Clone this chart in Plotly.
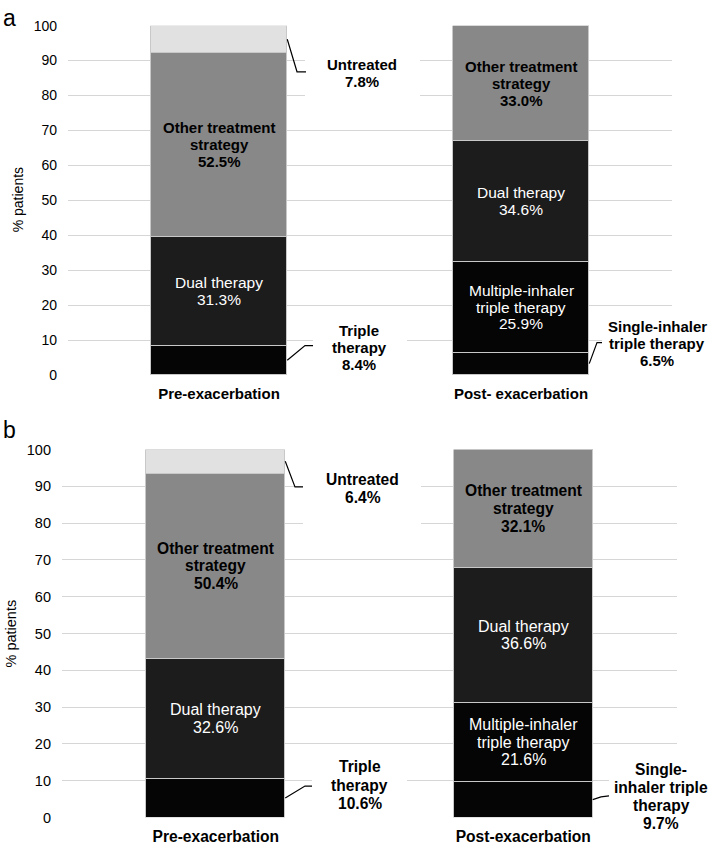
import plotly.graph_objects as go

W, H = 708, 852

# ---------------- data ----------------
categories_a = ["Pre-exacerbation", "Post- exacerbation"]
categories_b = ["Pre-exacerbation", "Post-exacerbation"]
y_ticks = [0, 10, 20, 30, 40, 50, 60, 70, 80, 90, 100]

a_triple = [8.4, None]
a_single = [None, 6.5]
a_multi = [None, 25.9]
a_dual = [31.3, 34.6]
a_other = [52.5, 33.0]
a_untreated = [7.8, None]

b_triple = [10.6, None]
b_single = [None, 9.7]
b_multi = [None, 21.6]
b_dual = [32.6, 36.6]
b_other = [50.4, 32.1]
b_untreated = [6.4, None]

# ---------------- styles ----------------
FONT = "Arial, Liberation Sans, Helvetica, sans-serif"
COL = dict(triple="#050505", single="#050505", multi="#050505",
           dual="#1c1c1c", other="#888888", untreated="#e1e1e1")
GRID = "#d6d6d6"
SEP = "#c8c8c8"

geom = {
    "a": dict(l=68, r=672, t=18, b=374, fs_b=15, fs_r=15.5, lh=16.8, tick=14),
    "b": dict(l=62, r=677, t=450, b=825, fs_b=15.6, fs_r=16, lh=17.8, tick=14.5),
}


def px2x(g, px):
    return (px - g["l"]) / (g["r"] - g["l"]) * 2 - 0.5


def py2y(g, py):
    return (g["b"] - py) / (g["b"] - g["t"]) * 100


BAR_W = 0.452

panels = {
    "a": dict(cats=categories_a, ax=("x", "y"),
              seg=[("triple", a_triple), ("single", a_single), ("multi", a_multi),
                   ("dual", a_dual), ("other", a_other), ("untreated", a_untreated)]),
    "b": dict(cats=categories_b, ax=("x2", "y2"),
              seg=[("triple", b_triple), ("single", b_single), ("multi", b_multi),
                   ("dual", b_dual), ("other", b_other), ("untreated", b_untreated)]),
}

inner_text = {
    "dual": (["Dual therapy"], "white", False),
    "multi": (["Multiple-inhaler", "triple therapy"], "white", False),
    "other": (["Other treatment", "strategy"], "black", True),
}

# outer labels: (segment, bar index, lines, text centre px, box px, leader bend points px)
outer = {
    "a": [
        ("untreated", 0, ["Untreated"], (362, 66), (305, 420, 42, 94), [(297, 65), (306, 65)]),
        ("triple", 0, ["Triple", "therapy"], (359, 346), (313, 407, 316, 382), [(305, 344), (313, 344)]),
        ("single", 1, ["Single-inhaler", "triple therapy"], (657, 342), (602, 708, 318, 368), [(597, 341), (602, 341)]),
    ],
    "b": [
        ("untreated", 0, ["Untreated"], (362.5, 490), (303, 421, 458, 532), [(295, 488), (303, 488)]),
        ("triple", 0, ["Triple", "therapy"], (359.5, 792), (312, 407, 760, 838), [(305, 793), (312, 793)]),
        ("single", 1, ["Single-", "inhaler triple", "therapy"], (661, 803.5), (609, 708, 764, 850), [(601, 804), (609, 803)]),
    ],
}

fig = go.Figure()
annotations = []
shapes = []

for key, p in panels.items():
    g = geom[key]
    xa, ya = p["ax"]
    base = [0.0, 0.0]
    centers = {}
    for name, vals in p["seg"]:
        fig.add_trace(go.Bar(
            x=[0, 1], y=vals, width=BAR_W, xaxis=xa, yaxis=ya,
            marker=dict(color=COL[name], line=dict(color=SEP, width=1)),
            showlegend=False, hoverinfo="skip"))
        for i, v in enumerate(vals):
            if v is None:
                continue
            centers[(name, i)] = (base[i] + v / 2, v)
            base[i] += v

    # inner labels
    for (name, i), (c, v) in centers.items():
        if name not in inner_text:
            continue
        lines, color, bold = inner_text[name]
        lines = lines + [f"{v:.1f}%"]
        n = len(lines)
        for k, line in enumerate(lines):
            txt = f"<b>{line}</b>" if bold else line
            annotations.append(dict(
                x=i, y=c, xref=xa, yref=ya, text=txt, showarrow=False,
                xanchor="center", yanchor="middle",
                yshift=((n - 1) / 2 - k) * g["lh"],
                font=dict(family=FONT, size=g["fs_b"] if bold else g["fs_r"], color=color)))

    # outer labels with white boxes and leader lines
    for name, i, lines, (cx, cy), (bx0, bx1, by0, by1), bends in outer[key]:
        c, v = centers[(name, i)]
        shapes.append(dict(type="rect", xref="paper", yref="paper",
                           x0=bx0 / W, x1=bx1 / W, y0=1 - by1 / H, y1=1 - by0 / H,
                           fillcolor="white", line=dict(width=0), layer="above"))
        pts = [(i + BAR_W / 2, c)] + [(px2x(g, bx), py2y(g, by)) for bx, by in bends]
        path = "M " + " L ".join(f"{x:.4f},{y:.4f}" for x, y in pts)
        shapes.append(dict(type="path", xref=xa, yref=ya, path=path,
                           line=dict(color="black", width=1.2), layer="above"))
        all_lines = lines + [f"{v:.1f}%"]
        n = len(all_lines)
        lh = g["lh"] + 0.8
        for k, line in enumerate(all_lines):
            py = cy + (k - (n - 1) / 2) * lh
            annotations.append(dict(
                x=cx / W, y=1 - py / H, xref="paper", yref="paper",
                text=f"<b>{line}</b>", showarrow=False,
                xanchor="center", yanchor="middle",
                font=dict(family=FONT, size=g["fs_b"], color="black")))

    # y-axis title and panel letter
    annotations.append(dict(
        x=(18 if key == "a" else 11) / W, y=1 - ((g["t"] + g["b"]) / 2) / H,
        xref="paper", yref="paper", text="% patients", textangle=-90,
        showarrow=False, xanchor="center", yanchor="middle",
        font=dict(family=FONT, size=g["tick"], color="black")))
    annotations.append(dict(
        x=9 / W, y=1 - (10 if key == "a" else 430) / H, xref="paper", yref="paper",
        text=key, showarrow=False, xanchor="center", yanchor="middle",
        font=dict(family=FONT, size=23, color="black")))

ga, gb = geom["a"], geom["b"]
axis_common = dict(showline=False, zeroline=False)
fig.update_layout(
    width=W, height=H, margin=dict(l=0, r=0, t=0, b=0),
    paper_bgcolor="white", plot_bgcolor="white",
    barmode="stack", bargap=0,
    font=dict(family=FONT, color="black"),
    xaxis=dict(domain=[ga["l"] / W, ga["r"] / W], range=[-0.5, 1.5],
               tickvals=[0, 1], ticktext=[f"<b>{c}</b>" for c in categories_a],
               showgrid=False, ticks="", ticklabelstandoff=8,
               tickfont=dict(family=FONT, size=15, color="black"), anchor="y", **axis_common),
    yaxis=dict(domain=[1 - ga["b"] / H, 1 - ga["t"] / H], range=[0, 100],
               tickvals=y_ticks, showgrid=True, gridcolor=GRID, gridwidth=1.2,
               ticks="", ticklabelstandoff=10,
               tickfont=dict(family=FONT, size=ga["tick"], color="black"), anchor="x", **axis_common),
    xaxis2=dict(domain=[gb["l"] / W, gb["r"] / W], range=[-0.5, 1.5],
                tickvals=[0, 1], ticktext=[f"<b>{c}</b>" for c in categories_b],
                showgrid=False, ticks="", ticklabelstandoff=8,
                tickfont=dict(family=FONT, size=15.6, color="black"), anchor="y2", **axis_common),
    yaxis2=dict(domain=[1 - gb["b"] / H, 1 - gb["t"] / H], range=[0, 100],
                tickvals=y_ticks, showgrid=True, gridcolor=GRID, gridwidth=1.2,
                ticks="", ticklabelstandoff=10,
                tickfont=dict(family=FONT, size=gb["tick"], color="black"), anchor="x2", **axis_common),
    annotations=annotations, shapes=shapes,
)

fig.write_html("out.html", config={"displayModeBar": False},
               post_script="document.body.style.margin='0px';")
